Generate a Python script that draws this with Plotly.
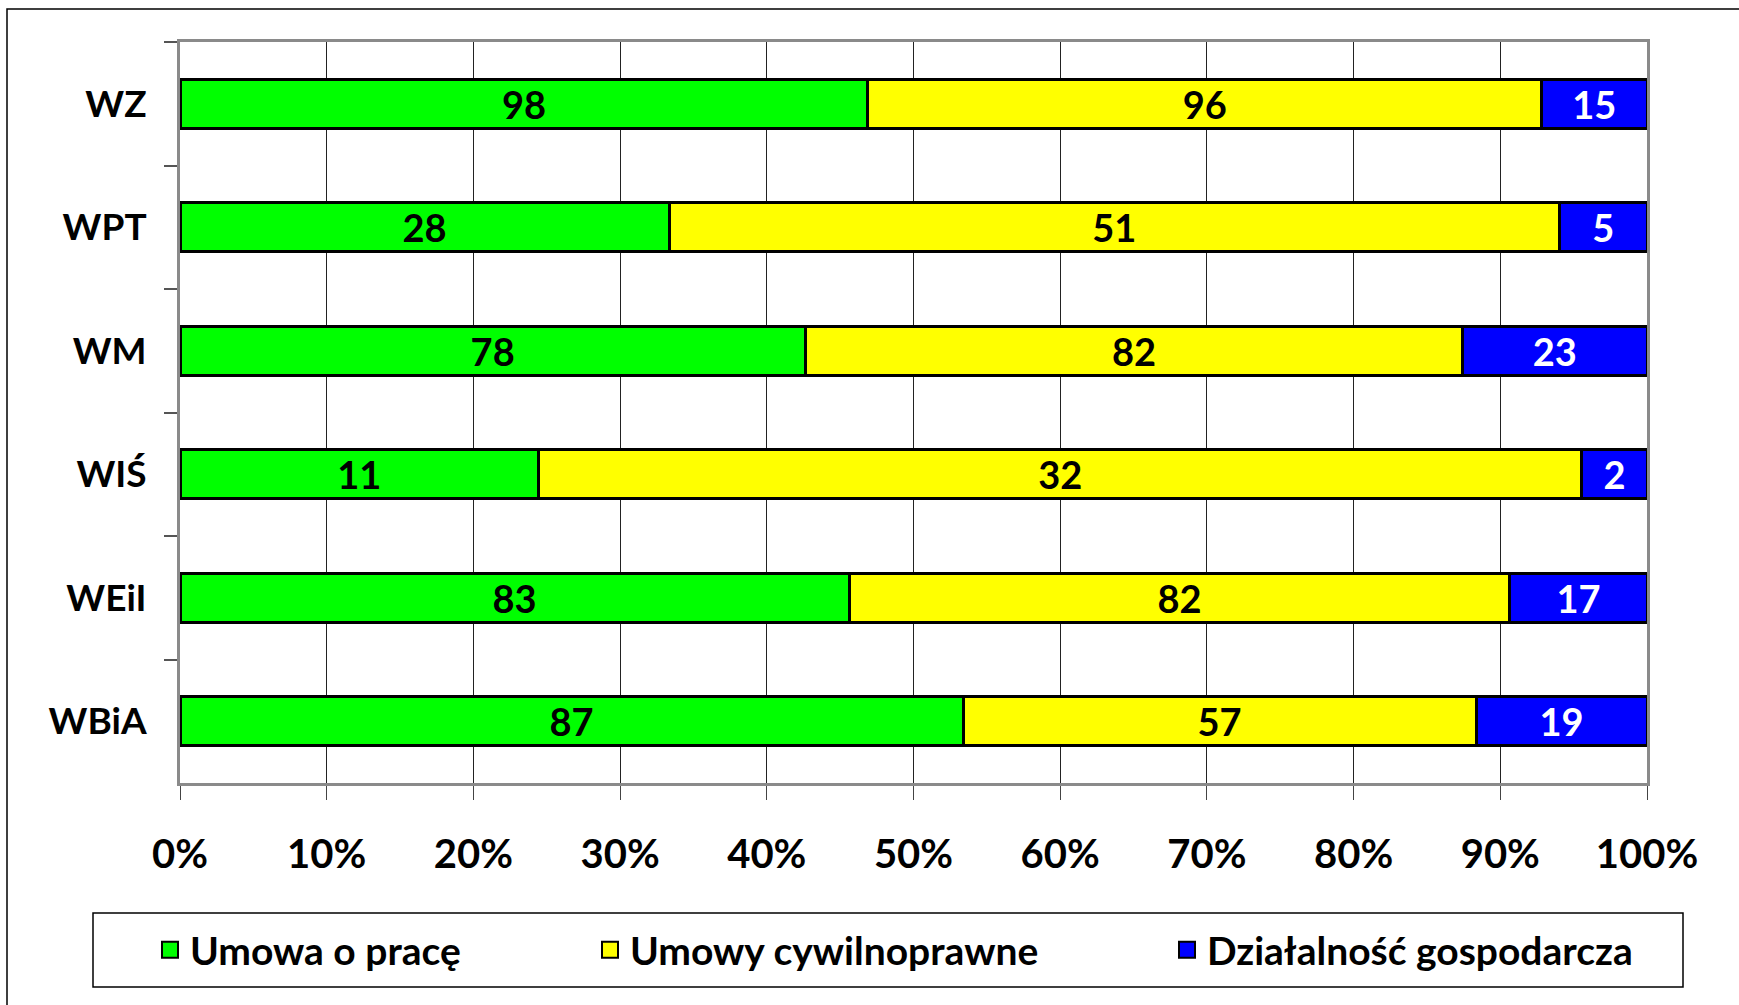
import plotly.graph_objects as go

# Data
wydzialy = ["WZ", "WPT", "WM", "WIŚ", "WEiI", "WBiA"]
umowa_o_prace = [98, 28, 78, 11, 83, 87]
umowy_cywilnoprawne = [96, 51, 82, 32, 82, 57]
dzialalnosc = [15, 5, 23, 2, 17, 19]

series_names = ["Umowa o pracę", "Umowy cywilnoprawne", "Działalność gospodarcza"]
x_ticks = list(range(0, 101, 10))

# layout in pixels
W, H = 1739, 1005
ML, MR, MT, MB = 180, 92, 42, 222
PW, PH = W - ML - MR, H - MT - MB


def px_x(x):
    return (x - ML) / PW


def px_y(y):
    return (H - MB - y) / PH


FONT = "Lato"
series = [
    (series_names[0], umowa_o_prace, "#00FF00", "black", "legend"),
    (series_names[1], umowy_cywilnoprawne, "#FFFF00", "black", "legend2"),
    (series_names[2], dzialalnosc, "#0000FF", "white", "legend3"),
]

fig = go.Figure()
for name, vals, color, tcolor, leg in series:
    fig.add_trace(go.Bar(
        y=wydzialy,
        x=vals,
        name=name,
        orientation="h",
        marker=dict(color=color, line=dict(color="black", width=3)),
        text=[str(v) for v in vals],
        textposition="inside",
        insidetextanchor="middle",
        textangle=0,
        constraintext="none",
        textfont=dict(family=FONT, size=38, color=tcolor, weight="bold"),
        showlegend=False,
        hoverinfo="skip",
    ))
    # legend-only entry with a bigger square key
    fig.add_trace(go.Scatter(
        x=[None], y=[None],
        mode="markers",
        name=name,
        marker=dict(symbol="square", size=16, color=color, line=dict(color="black", width=2)),
        legend=leg,
        showlegend=True,
    ))

legend_common = dict(
    orientation="h",
    yanchor="middle",
    y=px_y(950),
    xanchor="left",
    bgcolor="rgba(0,0,0,0)",
    borderwidth=0,
    font=dict(family=FONT, size=39, color="black", weight="bold"),
)

fig.update_layout(
    width=W,
    height=H,
    margin=dict(l=ML, r=MR, t=MT, b=MB, pad=0),
    paper_bgcolor="white",
    plot_bgcolor="white",
    barmode="stack",
    barnorm="percent",
    bargap=0.6,
    showlegend=True,
    font=dict(family=FONT, color="black"),
    legend=dict(x=px_x(150), **legend_common),
    legend2=dict(x=px_x(590), **legend_common),
    legend3=dict(x=px_x(1167), **legend_common),
    xaxis=dict(
        range=[0, 100],
        tickvals=x_ticks,
        ticktext=[f"{t}%" for t in x_ticks],
        showgrid=True,
        gridcolor="#222222",
        gridwidth=1,
        zeroline=False,
        showline=True,
        linecolor="#8a8a8a",
        linewidth=3,
        mirror=True,
        ticks="outside",
        ticklen=14,
        tickwidth=1,
        tickcolor="#444444",
        ticklabelstandoff=20,
        tickfont=dict(family=FONT, size=40, color="black", weight="bold"),
    ),
    yaxis=dict(
        autorange="reversed",
        showgrid=False,
        zeroline=False,
        showline=True,
        linecolor="#8a8a8a",
        linewidth=3,
        mirror=True,
        ticks="outside",
        tickson="boundaries",
        ticklen=13,
        tickwidth=2,
        tickcolor="#555555",
        ticklabelstandoff=23,
        tickfont=dict(family=FONT, size=37, color="black", weight="bold"),
    ),
    shapes=[
        # outer chart frame
        dict(type="rect", xref="paper", yref="paper",
             x0=px_x(7), x1=px_x(W + 10), y0=px_y(H + 10), y1=px_y(9),
             line=dict(color="black", width=1.5), fillcolor="rgba(0,0,0,0)", layer="below"),
        # legend box
        dict(type="rect", xref="paper", yref="paper",
             x0=px_x(93), x1=px_x(1683), y0=px_y(987), y1=px_y(913),
             line=dict(color="black", width=1.5), fillcolor="rgba(0,0,0,0)"),
    ],
)

# page body margin off so the figure sits at the window corner
fig.write_html("out.html", config={"displayModeBar": False},
               post_script="document.body.style.margin='0';")
